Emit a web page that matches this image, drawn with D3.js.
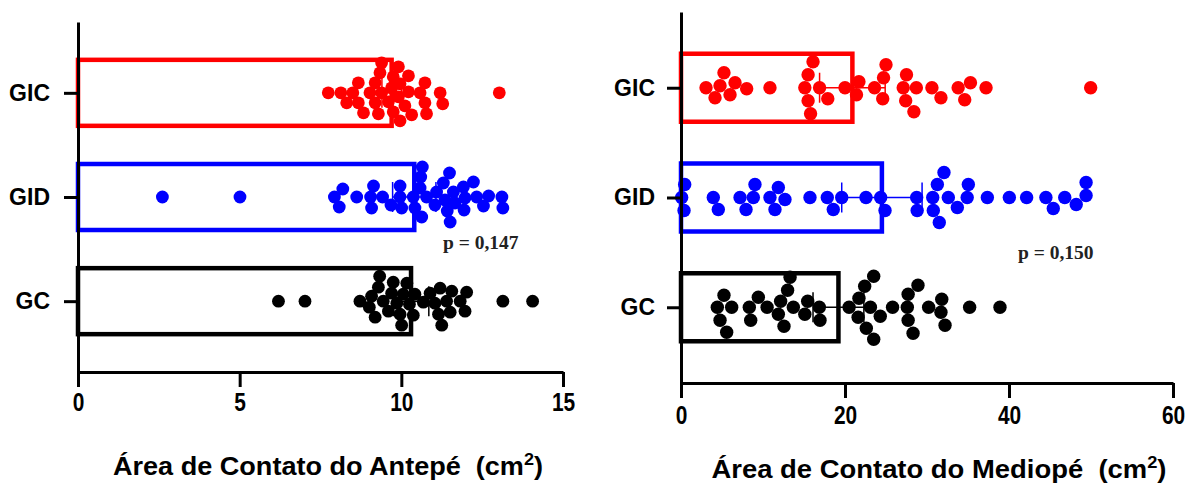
<!DOCTYPE html>
<html>
<head>
<meta charset="utf-8">
<script src="https://cdn.jsdelivr.net/npm/d3@7"></script>
<style>
body { margin: 0; background: #fff; }
</style>
</head>
<body>
<script>
/* ---------- data ---------- */
var groups = ["GIC", "GID", "GC"];
var colors = ["#ff0000", "#0000ff", "#000000"];

// Antepé contact area (cm2), one value per subject
var antepeGIC = [7.74, 8.13, 8.31, 8.50, 8.67, 8.67, 8.83, 9.03, 9.19, 9.19, 9.29, 9.34, 9.39, 9.39, 9.60, 9.70, 9.75,
	9.75, 9.91, 9.91, 9.96, 9.96, 10.11, 10.22, 10.22, 10.32, 10.58, 10.73, 10.78, 10.73, 11.20, 11.28, 13.03];
var antepeGID = [2.61, 5.01, 7.93, 8.08, 8.19, 8.62, 9.05, 9.08, 9.14, 9.42, 9.68, 9.96, 9.96, 10.01, 10.37, 10.42,
	10.58, 10.60, 10.63, 10.65, 10.78, 11.04, 11.09, 11.30, 11.35, 11.42, 11.49, 11.51, 11.61, 11.66, 11.92, 11.94,
	11.97, 12.23, 12.33, 12.54, 12.70, 13.11, 13.14];
var antepeGC = [6.20, 7.02, 8.72, 9.01, 9.08, 9.19, 9.29, 9.33, 9.44, 9.60, 9.70, 9.75, 9.86, 9.96, 10.01, 10.06,
	10.17, 10.25, 10.37, 10.42, 10.68, 10.89, 11.04, 11.15, 11.20, 11.25, 11.40, 11.51, 11.56, 11.82, 11.97, 12.02,
	13.14, 14.06];
var antepeMean = [9.7, 10.4, 10.3];
var antepeErr = [0.3, 0.67, 0.55];

// Mediopé contact area (cm2)
var mediopeGIC = [3.05, 4.15, 4.76, 5.24, 5.98, 6.59, 8.01, 10.85, 15.1, 15.5, 15.5, 15.8, 16.1, 16.9, 17.9, 20.0,
	21.4, 21.7, 23.6, 24.6, 24.7, 25.0, 27.1, 27.5, 27.4, 28.4, 28.7, 30.6, 31.7, 33.8, 34.6, 35.3, 37.2, 49.96];
var mediopeGID = [0.37, 0.45, 0.08, 3.94, 4.55, 7.2, 7.93, 8.82, 9.02, 10.85, 11.46, 11.87, 12.68, 15.73, 17.84,
	18.57, 19.6, 22.56, 24.35, 24.88, 28.74, 28.8, 30.77, 30.7, 31.26, 31.5, 32.07, 32.6, 33.7, 34.9, 35.04, 37.36,
	40.04, 42.15, 44.5, 45.4, 46.8, 48.2, 49.4, 49.4];
var mediopeGC = [4.43, 4.76, 5.57, 5.24, 6.18, 8.5, 8.33, 9.43, 10.5, 11.87, 12.15, 12.56, 13.0, 13.3, 13.7, 15.1,
	15.45, 16.87, 16.95, 20.5, 21.6, 21.7, 22.4, 22.6, 23.1, 23.5, 23.5, 24.3, 25.8, 27.7, 27.7, 27.6, 28.3, 28.9,
	30.2, 31.8, 31.7, 32.2, 35.2, 38.9];
var mediopeMean = [20.9, 24.5, 19.2];
var mediopeErr = [4.0, 4.9, 3.1];

var SANS = "'Liberation Sans', Arial, sans-serif";
var SERIF = "'Liberation Serif', 'Times New Roman', serif";

/* ---------- canvas ---------- */
var svg = d3.select("body").append("svg")
	.attr("width", 1195)
	.attr("height", 489);

/* ---------- beeswarm: spread the dots vertically so they do not pile up ---------- */
function swarm(values, x, minDist, maxOff) {
	var placed = [];
	values.slice().sort(d3.ascending).forEach(function(v) {
		var px = x(v), best = 0, bestD = -1;
		for (var k = 0; k <= maxOff * 2; k++) {
			var off = (k % 2 ? 1 : -1) * Math.ceil(k / 2);
			var md = Infinity;
			placed.forEach(function(p) {
				var dd = Math.hypot(p.x - px, p.y - off);
				if (dd < md) md = dd;
			});
			if (md >= minDist) { best = off; break; }
			if (md > bestD) { bestD = md; best = off; }
		}
		placed.push({x: px, y: best});
	});
	return placed;
}

function drawPanel(cfg) {
	var g = svg.append("g");
	var x = d3.scaleLinear().domain(cfg.domain).range([cfg.left, cfg.right]);
	var y = d3.scalePoint().domain(groups).range([cfg.top, cfg.bottom]).padding(cfg.pad);

	// bars (mean)
	groups.forEach(function(grp, i) {
		g.append("rect")
			.attr("x", x(0))
			.attr("y", y(grp) - cfg.barH / 2)
			.attr("width", x(cfg.mean[i]) - x(0))
			.attr("height", cfg.barH)
			.attr("fill", "none")
			.attr("stroke", colors[i])
			.attr("stroke-width", 4.5);
	});

	// error bars
	groups.forEach(function(grp, i) {
		var lo = x(cfg.mean[i] - cfg.err[i]), hi = x(cfg.mean[i] + cfg.err[i]), cy = y(grp);
		var eb = g.append("g").attr("stroke", colors[i]).attr("stroke-width", 1.5);
		eb.append("line").attr("x1", lo).attr("x2", hi).attr("y1", cy).attr("y2", cy);
		eb.append("line").attr("x1", lo).attr("x2", lo).attr("y1", cy - 15).attr("y2", cy + 15);
		eb.append("line").attr("x1", hi).attr("x2", hi).attr("y1", cy - 15).attr("y2", cy + 15);
	});

	// dots
	groups.forEach(function(grp, i) {
		var pts = swarm(cfg.values[i], x, cfg.minDist, cfg.maxOff);
		g.selectAll(null)
			.data(pts)
			.enter()
			.append("circle")
			.attr("cx", function(d) { return d.x; })
			.attr("cy", function(d) { return y(grp) + d.y; })
			.attr("r", cfg.r)
			.attr("fill", colors[i]);
	});

	// x axis: minor then major ticks
	var xg = g.append("g").attr("transform", "translate(0," + cfg.bottom + ")");
	xg.call(d3.axisBottom(x).tickValues(d3.range(cfg.domain[0], cfg.domain[1] + 0.001, cfg.minor))
		.tickSize(8).tickSizeOuter(0).tickFormat(""));
	xg.call(d3.axisBottom(x).tickValues(cfg.major).tickSize(15).tickSizeOuter(0).tickPadding(cfg.tickPad));
	xg.selectAll("line, path").attr("stroke", "#000").attr("stroke-width", 3);
	xg.selectAll("text")
		.style("font-family", SANS).style("font-weight", "bold").style("font-size", "25.5px")
		.attr("fill", "#000")
		.attr("transform", "scale(0.82,1)");

	// y axis with group names
	var yg = g.append("g").attr("transform", "translate(" + cfg.left + ",0)");
	yg.call(d3.axisLeft(y).tickSize(14).tickSizeOuter(0).tickPadding(cfg.labelPad));
	yg.selectAll("line, path").attr("stroke", "#000").attr("stroke-width", 3);
	yg.selectAll("text")
		.style("font-family", SANS).style("font-weight", "bold").style("font-size", "23px")
		.attr("fill", "#000");

	// axis title
	var t = g.append("text")
		.attr("x", cfg.titleX)
		.attr("y", cfg.titleY)
		.attr("text-anchor", "middle")
		.attr("textLength", cfg.titleW)
		.attr("lengthAdjust", "spacingAndGlyphs")
		.style("font-family", SANS).style("font-weight", "bold").style("font-size", "25.5px")
		.attr("fill", "#000");
	t.append("tspan").text(cfg.title + "\u00a0\u00a0(cm");
	t.append("tspan").attr("dy", -10).style("font-size", "17px").text("2");
	t.append("tspan").attr("dy", 10).text(")");

	// p value
	g.append("text")
		.attr("x", cfg.pX)
		.attr("y", cfg.pY)
		.style("font-family", SERIF).style("font-weight", "bold").style("font-size", "19.5px")
		.attr("fill", "#222")
		.text(cfg.pText);
}

drawPanel({
	values: [antepeGIC, antepeGID, antepeGC],
	mean: antepeMean, err: antepeErr,
	domain: [0, 15], major: [0, 5, 10, 15], minor: 1,
	left: 78, right: 563, top: 22, bottom: 372, pad: 0.68,
	barH: 66, r: 6.4, minDist: 11, maxOff: 30,
	tickPad: 6, labelPad: 14,
	title: "Área de Contato do Antepé", titleX: 328, titleY: 475, titleW: 430,
	pText: "p = 0,147", pX: 443, pY: 249
});

drawPanel({
	values: [mediopeGIC, mediopeGID, mediopeGC],
	mean: mediopeMean, err: mediopeErr,
	domain: [0, 60], major: [0, 20, 40, 60], minor: 2,
	left: 681, right: 1173, top: 12, bottom: 383, pad: 0.69,
	barH: 68, r: 6.7, minDist: 13, maxOff: 32,
	tickPad: 8, labelPad: 12,
	title: "Área de Contato do Mediopé", titleX: 939, titleY: 478, titleW: 455,
	pText: "p = 0,150", pX: 1018, pY: 259
});
</script>
</body>
</html>
